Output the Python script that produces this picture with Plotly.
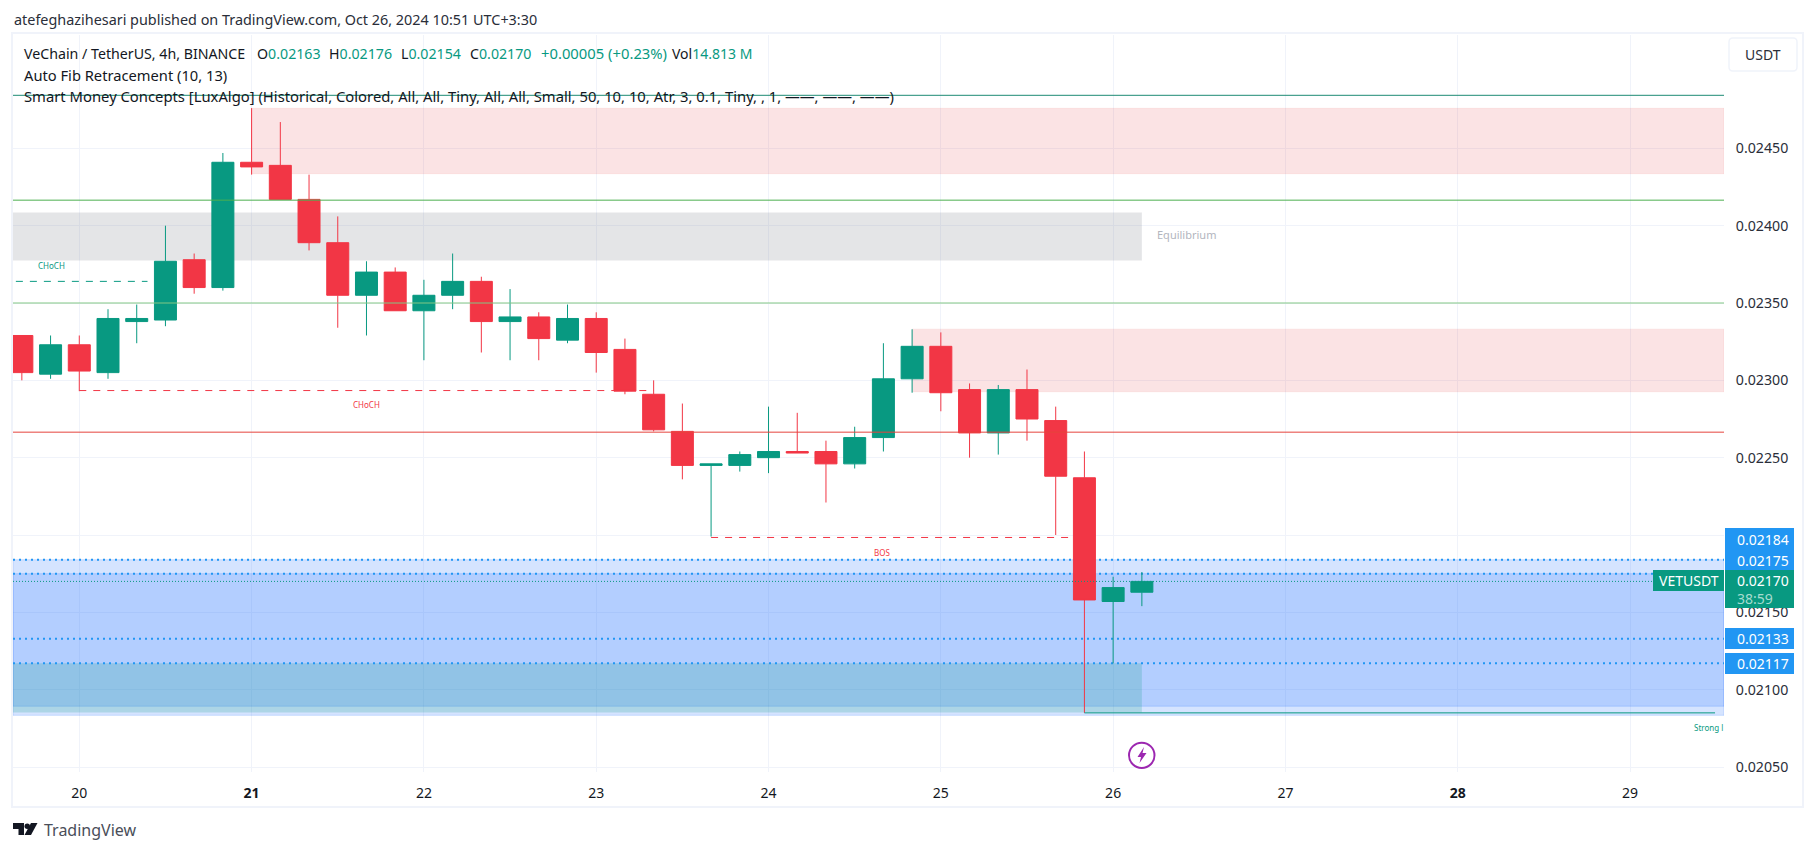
import pandas as pd
import plotly.graph_objects as go

# ---------- data ----------
times = pd.date_range("2024-10-19 16:00", periods=40, freq="4h")
opens = [0.02329,0.02304,0.02323,0.02305,0.02338,0.02339,0.02378,0.02360,0.02441,0.02439,
         0.02417,0.02389,0.02355,0.02370,0.02345,0.02355,0.02364,0.02338,0.02341,0.02326,
         0.02340,0.02320,0.02291,0.02267,0.02245,0.02245,0.02250,0.02254,0.02254,0.02246,
         0.02263,0.02301,0.02322,0.02294,0.02266,0.02294,0.02274,0.02237,0.02157,0.02163]
highs = [0.02329,0.02329,0.02329,0.02346,0.02349,0.02400,0.02382,0.02447,0.02476,0.02467,
         0.02433,0.02406,0.02377,0.02373,0.02365,0.02382,0.02367,0.02359,0.02344,0.02349,
         0.02344,0.02327,0.02300,0.02285,0.02246,0.02254,0.02283,0.02279,0.02261,0.02270,
         0.02324,0.02333,0.02331,0.02298,0.02297,0.02307,0.02283,0.02254,0.02173,0.02176]
lows = [0.02300,0.02301,0.02293,0.02301,0.02324,0.02335,0.02356,0.02358,0.02433,0.02417,
        0.02384,0.02334,0.02329,0.02345,0.02313,0.02346,0.02318,0.02313,0.02313,0.02324,
        0.02305,0.02291,0.02267,0.02236,0.02199,0.02241,0.02240,0.02253,0.02221,0.02243,
        0.02254,0.02292,0.02280,0.02250,0.02252,0.02261,0.02200,0.02085,0.02117,0.02154]
closes = [0.02305,0.02323,0.02306,0.02340,0.02340,0.02377,0.02360,0.02441,0.02438,0.02417,
          0.02389,0.02355,0.02370,0.02345,0.02355,0.02364,0.02338,0.02341,0.02327,0.02340,
          0.02318,0.02293,0.02268,0.02245,0.02246,0.02252,0.02254,0.02253,0.02246,0.02263,
          0.02301,0.02322,0.02292,0.02266,0.02294,0.02275,0.02238,0.02158,0.02166,0.02170]

price_ticks = [0.0205, 0.0210, 0.0215, 0.0220, 0.0225, 0.0230, 0.0235, 0.0240, 0.0245]
price_labels = ["0.02050", "0.02100", "0.02150", "", "0.02250", "0.02300", "0.02350", "0.02400", "0.02450"]
day_ticks = pd.date_range("2024-10-20", "2024-10-29", freq="D")
day_labels = ["20", "<b>21</b>", "22", "23", "24", "25", "26", "27", "<b>28</b>", "29"]

fib_levels = [0.024843, 0.024165, 0.023500, 0.022665]
fib_colors = ["#1c8a74", "#4caf50", "#81c784", "#e5433d"]
supply_upper = (0.024759, 0.024336)
supply_lower = (0.023331, 0.022926)
equilibrium = (0.024085, 0.023775)
ob_outer = (0.02184, 0.020834)
ob_inner = (0.02175, 0.020893)
ob_teal = (0.02117, 0.020852)
lvl_blue = [0.02184, 0.02175, 0.02133, 0.02117]
last_close = 0.02170
choch_up = 0.023640
choch_down = 0.022934
bos_level = 0.021984
strong_low = 0.02085

UP, DOWN = "#089981", "#F23645"
INK = "#131722"
FONT = "Noto Sans"

# ---------- page geometry (pixels) ----------
W, H = 1814, 851
L, R, T, B = 13, 1724, 35, 772
X_START, X_END = "2024-10-19 14:46", "2024-10-29 13:05"


def px(x):
    return (x - L) / (R - L)


def py(y):
    return (B - y) / (B - T)


last_bar = times[-1]
shapes = []


def zone(x0, x1, ys, fill, line=None):
    shapes.append(dict(type="rect", xref="x", yref="y", x0=x0, x1=x1, y0=ys[0], y1=ys[1],
                       fillcolor=fill, line=dict(width=1 if line else 0, color=line or fill),
                       layer="between"))


def hline(y, color, x0=X_START, x1=X_END, width=1, dash="solid", layer="above"):
    shapes.append(dict(type="line", xref="x", yref="y", x0=x0, x1=x1, y0=y, y1=y,
                       line=dict(color=color, width=width, dash=dash), layer=layer))


# zones
BLUE = "rgba(33,110,255,0.19)"
RED_ZONE = "rgba(230,60,65,0.14)"
RED_EDGE = "rgba(230,60,65,0.08)"
zone(X_START, X_END, ob_outer, BLUE, line=BLUE)
zone(X_START, X_END, ob_inner, BLUE, line=BLUE)
zone(X_START, last_bar, ob_teal, "rgba(8,153,129,0.2)")
zone(X_START, last_bar, equilibrium, "rgba(120,123,134,0.2)")
zone(times[8], X_END, supply_upper, RED_ZONE, line=RED_EDGE)
zone(times[31], X_END, supply_lower, RED_ZONE, line=RED_EDGE)

# fib levels
for lv, col in zip(fib_levels, fib_colors):
    hline(lv, col)

# blue dotted price lines
for lv in lvl_blue:
    hline(lv, "#2196F3", width=2, dash="2px,4px", layer="between")
hline(last_close, UP, dash="1px,2px")

# structure lines
hline(choch_up, UP, x0="2024-10-19 15:10", x1="2024-10-20 09:30", dash="7px,7px", layer="between")
hline(choch_down, DOWN, x0=times[2], x1=times[22], dash="7px,7px", layer="between")
hline(bos_level, DOWN, x0=times[24], x1=times[37], dash="7px,7px", layer="between")
hline(strong_low, UP, x0=times[37], x1="2024-10-29 11:50", layer="above")

# chart frame
shapes.append(dict(type="rect", xref="paper", yref="paper", x0=px(12), x1=px(1803), y0=py(807), y1=py(33),
                   line=dict(color="#F0F3FA", width=2), layer="below"))


def rounded(x0, y0, x1, y1, r):
    a, b, c, d = px(x0), py(y0), px(x1), py(y1)
    rx, ry = r / (R - L), r / (B - T)
    return (f"M{a + rx},{b} L{c - rx},{b} Q{c},{b} {c},{b - ry} L{c},{d + ry} Q{c},{d} {c - rx},{d} "
            f"L{a + rx},{d} Q{a},{d} {a},{d + ry} L{a},{b - ry} Q{a},{b} {a + rx},{b} Z")


# USDT button
shapes.append(dict(type="path", xref="paper", yref="paper", layer="above", path=rounded(1729, 38, 1797, 71, 4),
                   line=dict(color="#F0F3FA", width=1.5), fillcolor="white"))
# lightning badge
shapes.append(dict(type="circle", xref="paper", yref="paper", x0=px(1129), x1=px(1154.5), y0=py(768), y1=py(742.7),
                   line=dict(color="#9C27B0", width=2), layer="above"))
bolt = [(1144, 747), (1137.5, 757), (1141, 757), (1139.5, 763), (1146.5, 753), (1142.5, 753)]
shapes.append(dict(type="path", xref="paper", yref="paper", layer="above", fillcolor="#9C27B0",
                   line=dict(width=0, color="#9C27B0"),
                   path="M" + " L".join(f"{px(a)},{py(b)}" for a, b in bolt) + " Z"))
# TradingView mark
logo_t = [(13, 823), (24, 823), (24, 835), (18.5, 835), (18.5, 829), (13, 829)]
logo_s = [(31, 823), (37.5, 823), (31, 835), (24.5, 835)]
for poly in (logo_t, logo_s):
    shapes.append(dict(type="path", xref="paper", yref="paper", layer="above", fillcolor=INK,
                       line=dict(width=0, color=INK),
                       path="M" + " L".join(f"{px(a)},{py(b)}" for a, b in poly) + " Z"))
shapes.append(dict(type="circle", xref="paper", yref="paper", x0=px(24.5), x1=px(30), y0=py(829), y1=py(823.5),
                   fillcolor=INK, line=dict(width=0, color=INK), layer="above"))

ann = []


def text(x, y, s, size=14, color=INK, anchor="left", **kw):
    ann.append(dict(xref="paper", yref="paper", x=px(x), y=py(y), text=s, showarrow=False, xanchor=anchor,
                    yanchor="middle", font=dict(family=FONT, size=size, color=color), borderpad=0, **kw))


def g(s):
    return f"<span style='color:{UP}'>{s}</span>"


text(13, 19, "atefeghazihesari published on TradingView.com, Oct 26, 2024 10:51 UTC+3:30", 14.4, "#2a2e39")
text(23, 53, "VeChain / TetherUS, 4h, BINANCE", 14.2)
text(256, 53, "O" + g("0.02163"), 14.2)
text(328, 53, "H" + g("0.02176"), 14.2)
text(400, 53, "L" + g("0.02154"), 14.2)
text(469, 53, "C" + g("0.02170"), 14.2)
text(540, 53, g("+0.00005 (+0.23%)"), 14.8)
text(671, 53, "Vol" + g("14.813 M"), 14)
text(23, 75, "Auto Fib Retracement (10, 13)", 14.7)
text(23, 96, "Smart Money Concepts [LuxAlgo] (Historical, Colored, All, All, Tiny, All, All, Small, 50, 10, 10, Atr, 3, 0.1, Tiny, , 1, \u2014\u2014, \u2014\u2014, \u2014\u2014)", 14.8)
text(1763, 54.5, "USDT", 14, "#2a2e39", "center")
text(1156, 234, "Equilibrium", 11, "#b2b5be")
text(51, 265, "CHoCH", 8, UP, "center")
text(366, 405, "CHoCH", 8, DOWN, "center")
text(882, 552, "BOS", 8, DOWN, "center")
text(1724, 727, "Strong l", 8, UP, "right")
text(43, 830, "TradingView", 16, "#4a4e59")


# price tags
def tag(y0, y1, bg, x0=1725, x1=1794):
    shapes.append(dict(type="rect", xref="paper", yref="paper", x0=px(x0), x1=px(x1), y0=py(y1), y1=py(y0),
                       fillcolor=bg, line=dict(width=0, color=bg), layer="above"))


BLUE_TAG = "#2196F3"
tag(528, 549, BLUE_TAG)
tag(549, 570, BLUE_TAG)
tag(570, 608, UP)
tag(628, 649, BLUE_TAG)
tag(653, 674, BLUE_TAG)
tag(570, 591, UP, 1653, 1724)
text(1735.5, 539, "0.02184", 14, "white")
text(1735.5, 560, "0.02175", 14, "white")
text(1735.5, 580.5, "0.02170", 14, "white")
text(1735.5, 598.5, "38:59", 14, "#a6dccf")
text(1735.5, 638.5, "0.02133", 14, "white")
text(1735.5, 663.5, "0.02117", 14, "white")
text(1688.5, 580.5, "VETUSDT", 14, "white", "center")

fig = go.Figure(go.Candlestick(
    x=times, open=opens, high=highs, low=lows, close=closes, whiskerwidth=0,
    increasing=dict(line=dict(color=UP, width=1), fillcolor=UP),
    decreasing=dict(line=dict(color=DOWN, width=1), fillcolor=DOWN),
    showlegend=False, hoverinfo="skip"))

fig.update_layout(
    width=W, height=H, autosize=False, margin=dict(l=L, r=W - R, t=T, b=H - B),
    paper_bgcolor="white", plot_bgcolor="white", boxgap=0.234, boxgroupgap=0,
    font=dict(family=FONT, color=INK, size=14), showlegend=False,
    shapes=shapes, annotations=ann,
    xaxis=dict(type="date", range=[X_START, X_END], tickmode="array",
               tickvals=list(day_ticks), ticktext=day_labels, showgrid=True, gridcolor="#F0F3FA", gridwidth=1,
               zeroline=False, showline=False, ticks="outside", ticklen=8, tickcolor="rgba(0,0,0,0)",
               rangeslider=dict(visible=False), tickfont=dict(size=14, family=FONT, color=INK)),
    yaxis=dict(side="right", range=[0.02046766, 0.0252329], tickmode="array", tickvals=price_ticks,
               ticktext=price_labels, showgrid=True, gridcolor="#F0F3FA", gridwidth=1, zeroline=False, showline=False,
               ticks="outside", ticklen=8, tickcolor="rgba(0,0,0,0)", tickfont=dict(size=14.2, family=FONT, color="#2a2e39")),
)

fig.write_html("out.html", post_script="document.body.style.margin='0';document.documentElement.style.overflow='hidden';",
               config=dict(displayModeBar=False))
